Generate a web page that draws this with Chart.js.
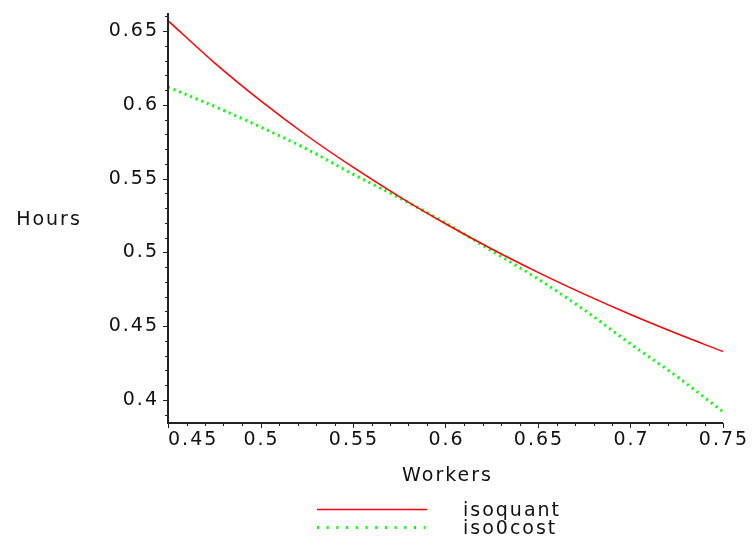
<!DOCTYPE html>
<html>
<head>
<meta charset="utf-8">
<script src="https://cdn.jsdelivr.net/npm/chart.js@4/dist/chart.umd.min.js"></script>
<style>
  html, body { margin: 0; padding: 0; background: #fff; }
  #wrap { width: 752px; height: 540px; }
</style>
</head>
<body>
<div id="wrap"><canvas id="plot"></canvas></div>
<script>
// values
const workers  = [0.45, 0.475, 0.5, 0.525, 0.55, 0.575, 0.6, 0.625, 0.65, 0.675, 0.7, 0.725, 0.75];
const isoquant = [0.657, 0.6286, 0.6028, 0.5792, 0.5577, 0.5378, 0.5194, 0.5023, 0.4865, 0.4717, 0.4579, 0.445, 0.4328];
const isocost  = [0.612, 0.599, 0.585, 0.570, 0.553, 0.537, 0.520, 0.501, 0.482, 0.461, 0.438, 0.416, 0.392];
const xTicks = [0.45, 0.5, 0.55, 0.6, 0.65, 0.7, 0.75];
const yTicks = [0.4, 0.45, 0.5, 0.55, 0.6, 0.65];
const seriesNames = ['isoquant', 'iso0cost'];

const FONT = '19px "DejaVu Sans"';

function pts(ys) {
  return workers.map((w, i) => ({ x: w, y: ys[i] }));
}

// axes, ticks, titles and legend drawn in Maple style
const decor = {
  id: 'decor',
  afterDraw(chart) {
    const ctx = chart.ctx;
    const xs = chart.scales.x, ys = chart.scales.y;
    const a = chart.chartArea;
    ctx.save();
    ctx.strokeStyle = '#222';
    ctx.lineWidth = 2;
    ctx.beginPath();
    ctx.moveTo(a.left, a.top);
    ctx.lineTo(a.left, a.bottom);
    ctx.lineTo(a.right, a.bottom);
    ctx.stroke();

    ctx.lineWidth = 1;
    for (let i = 39; i <= 66; i++) {
      const p = Math.round(ys.getPixelForValue(i / 100)) + 0.5;
      const len = i % 5 === 0 ? 5 : 3;
      ctx.beginPath();
      ctx.moveTo(a.left, p);
      ctx.lineTo(a.left - len, p);
      ctx.stroke();
    }
    for (let i = 45; i <= 75; i++) {
      const p = Math.round(xs.getPixelForValue(i / 100)) + 0.5;
      const len = i % 5 === 0 ? 5 : 3;
      ctx.beginPath();
      ctx.moveTo(p, a.bottom);
      ctx.lineTo(p, a.bottom + len);
      ctx.stroke();
    }

    ctx.font = FONT;
    ctx.fillStyle = '#111';
    ctx.letterSpacing = '2px';
    ctx.textBaseline = 'middle';

    ctx.textAlign = 'right';
    yTicks.forEach(v => {
      ctx.fillText(String(v), a.left - 9, ys.getPixelForValue(v));
    });
    xTicks.forEach((v, i) => {
      ctx.textAlign = i === 0 ? 'left' : 'center';
      ctx.fillText(String(v), xs.getPixelForValue(v) + (i === 0 ? 0 : 1), a.bottom + 17);
    });

    ctx.textAlign = 'center';
    ctx.fillText('Workers', (a.left + a.right) / 2 + 2, 476);
    ctx.fillText('Hours', 49, (a.top + a.bottom) / 2 + 2);

    // legend
    ctx.lineWidth = 1.5;
    ctx.strokeStyle = '#ff0000';
    ctx.beginPath();
    ctx.moveTo(317, 509.5);
    ctx.lineTo(427, 509.5);
    ctx.stroke();
    ctx.lineWidth = 3;
    ctx.strokeStyle = '#00ff00';
    ctx.setLineDash([2, 7.7]);
    ctx.beginPath();
    ctx.moveTo(317, 527.5);
    ctx.lineTo(425, 527.5);
    ctx.stroke();
    ctx.setLineDash([]);

    ctx.textAlign = 'left';
    ctx.fillText(seriesNames[0], 463, 511);
    ctx.fillText(seriesNames[1], 463, 529);
    ctx.restore();
  }
};

new Chart(document.getElementById('plot'), {
  type: 'line',
  data: {
    datasets: [{
      label: seriesNames[0],
      data: pts(isoquant),
      borderColor: '#ff0000',
      borderWidth: 1.5,
      pointRadius: 0,
      cubicInterpolationMode: 'monotone'
    }, {
      label: seriesNames[1],
      data: pts(isocost),
      borderColor: '#00ff00',
      borderWidth: 3,
      borderDash: [2, 4],
      borderCapStyle: 'butt',
      pointRadius: 0,
      cubicInterpolationMode: 'monotone'
    }]
  },
  options: {
    responsive: true,
    maintainAspectRatio: false,
    animation: false,
    layout: { padding: { left: 0, top: 13, right: 29, bottom: 0 } },
    plugins: { legend: { display: false }, tooltip: { enabled: false } },
    scales: {
      x: {
        type: 'linear',
        min: 0.45,
        max: 0.75,
        grid: { display: false },
        border: { display: false },
        ticks: { display: false },
        afterFit: s => { s.height = 117; }
      },
      y: {
        type: 'linear',
        min: 0.3844,
        max: 0.6622,
        grid: { display: false },
        border: { display: false },
        ticks: { display: false },
        afterFit: s => { s.width = 168; }
      }
    }
  },
  plugins: [decor]
});
</script>
</body>
</html>
